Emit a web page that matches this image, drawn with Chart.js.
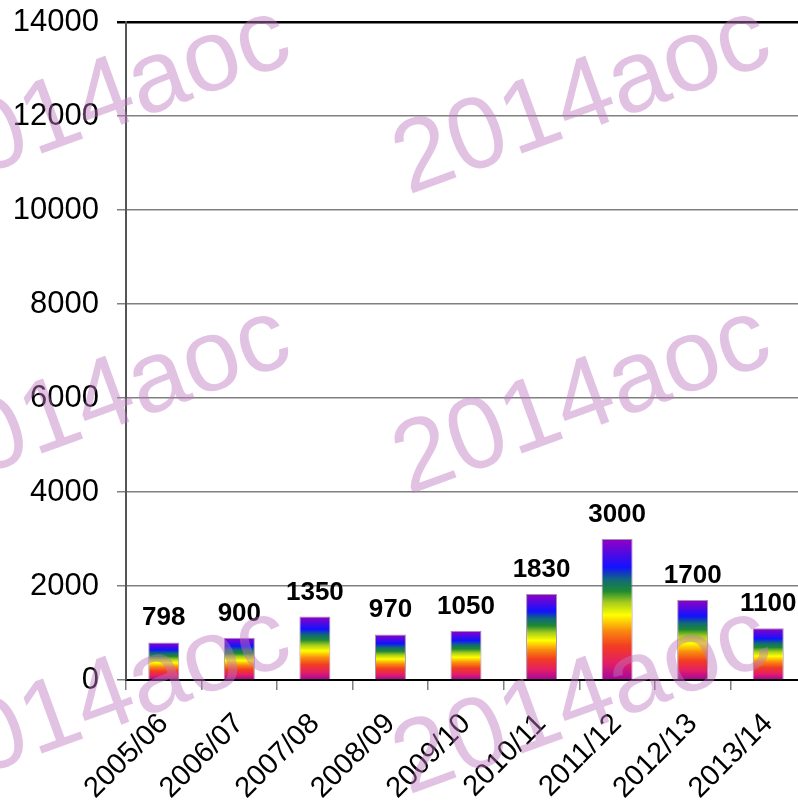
<!DOCTYPE html>
<html>
<head>
<meta charset="utf-8">
<script src="https://cdn.jsdelivr.net/npm/chart.js@4"></script>
<style>
  html, body { margin: 0; padding: 0; background: #fff; overflow: hidden; }
</style>
</head>
<body>
<canvas id="aocChart" width="806" height="805"></canvas>
<script>
// seasons on the x-axis
const seasons = ['2005/06', '2006/07', '2007/08', '2008/09', '2009/10', '2010/11', '2011/12', '2012/13', '2013/14'];
// bar values (also printed above each bar)
const counts = [798, 900, 1350, 970, 1050, 1830, 3000, 1700, 1100];
// y-axis ticks
const yTicks = [0, 2000, 4000, 6000, 8000, 10000, 12000, 14000];

const FONT = '"Liberation Sans", Arial, sans-serif';

// rainbow stops, bottom of the bar = 0, top = 1
const rainbow = [
    [0.00, '#a2069e'],
    [0.12, '#e41e66'],
    [0.24, '#f23c22'],
    [0.35, '#f98a0e'],
    [0.46, '#ffff00'],
    [0.55, '#a6cc1c'],
    [0.63, '#1f8a32'],
    [0.71, '#116a78'],
    [0.80, '#1212ff'],
    [1.00, '#9400c4']
];

function barGradient(context) {
    const chart = context.chart;
    if (!chart.chartArea || context.type !== 'data') return '#a2069e';
    const y = chart.scales.y;
    const base = y.getPixelForValue(0);
    const top = y.getPixelForValue(context.raw);
    const g = chart.ctx.createLinearGradient(0, base, 0, top);
    rainbow.forEach(s => g.addColorStop(s[0], s[1]));
    return g;
}

// numbers above the bars
const valueLabels = {
    id: 'valueLabels',
    afterDatasetsDraw(chart) {
        const ctx = chart.ctx;
        const meta = chart.getDatasetMeta(0);
        ctx.save();
        ctx.font = 'bold 26px ' + FONT;
        ctx.fillStyle = '#000';
        ctx.textAlign = 'center';
        ctx.textBaseline = 'alphabetic';
        meta.data.forEach((bar, i) => {
            ctx.fillText(String(counts[i]), bar.x, bar.y - 17);
        });
        ctx.restore();
    }
};

// the "2014aoc" watermark laid over everything
const watermark = {
    id: 'watermark',
    afterDraw(chart) {
        const ctx = chart.ctx;
        ctx.save();
        ctx.font = '102px ' + FONT;
        ctx.fillStyle = 'rgba(190,120,190,0.45)';
        ctx.textBaseline = 'alphabetic';
        const spots = [[-72, 195], [408, 195], [-72, 495], [408, 495], [-72, 795], [408, 795]];
        spots.forEach(p => {
            ctx.save();
            ctx.translate(p[0], p[1]);
            ctx.rotate(-20 * Math.PI / 180);
            ctx.fillText('2014aoc', 0, 0);
            ctx.restore();
        });
        ctx.restore();
    }
};

const chart = new Chart(document.getElementById('aocChart'), {
    type: 'bar',
    data: {
        labels: seasons,
        datasets: [{
            data: counts,
            backgroundColor: barGradient,
            borderColor: 'rgba(130,95,140,0.7)',
            borderWidth: 1,
            barPercentage: 0.41,
            categoryPercentage: 1
        }]
    },
    options: {
        responsive: false,
        animation: false,
        layout: { padding: { top: 22, left: 0, right: 0, bottom: 0 } },
        plugins: {
            legend: { display: false },
            tooltip: { enabled: false }
        },
        scales: {
            x: {
                grid: {
                    drawOnChartArea: false,
                    drawTicks: true,
                    tickLength: 10,
                    color: '#808080',
                    lineWidth: 1.5
                },
                border: { color: '#000', width: 2 },
                ticks: {
                    color: '#000',
                    font: { family: FONT, size: 29 },
                    minRotation: 45,
                    maxRotation: 45,
                    padding: 17,
                    autoSkip: false
                },
                afterFit(scale) {
                    scale.height = 125;
                    scale.paddingLeft = 0;
                    scale.paddingRight = 0;
                }
            },
            y: {
                min: 0,
                max: 14000,
                afterBuildTicks(scale) { scale.ticks = yTicks.map(v => ({ value: v })); },
                grid: {
                    tickLength: 9,
                    color: ctx => (ctx.tick && ctx.tick.value === 14000) ? '#000' : '#808080',
                    lineWidth: ctx => (ctx.tick && ctx.tick.value === 14000) ? 2.5 : 1.5
                },
                border: { color: '#555', width: 2 },
                ticks: {
                    color: '#000',
                    font: { family: FONT, size: 31 },
                    padding: 18,
                    callback: v => String(v)
                },
                afterFit(scale) {
                    scale.width = 126;
                    scale.paddingTop = 0;
                    scale.paddingBottom = 0;
                }
            }
        }
    },
    plugins: [valueLabels, watermark]
});
</script>
</body>
</html>
